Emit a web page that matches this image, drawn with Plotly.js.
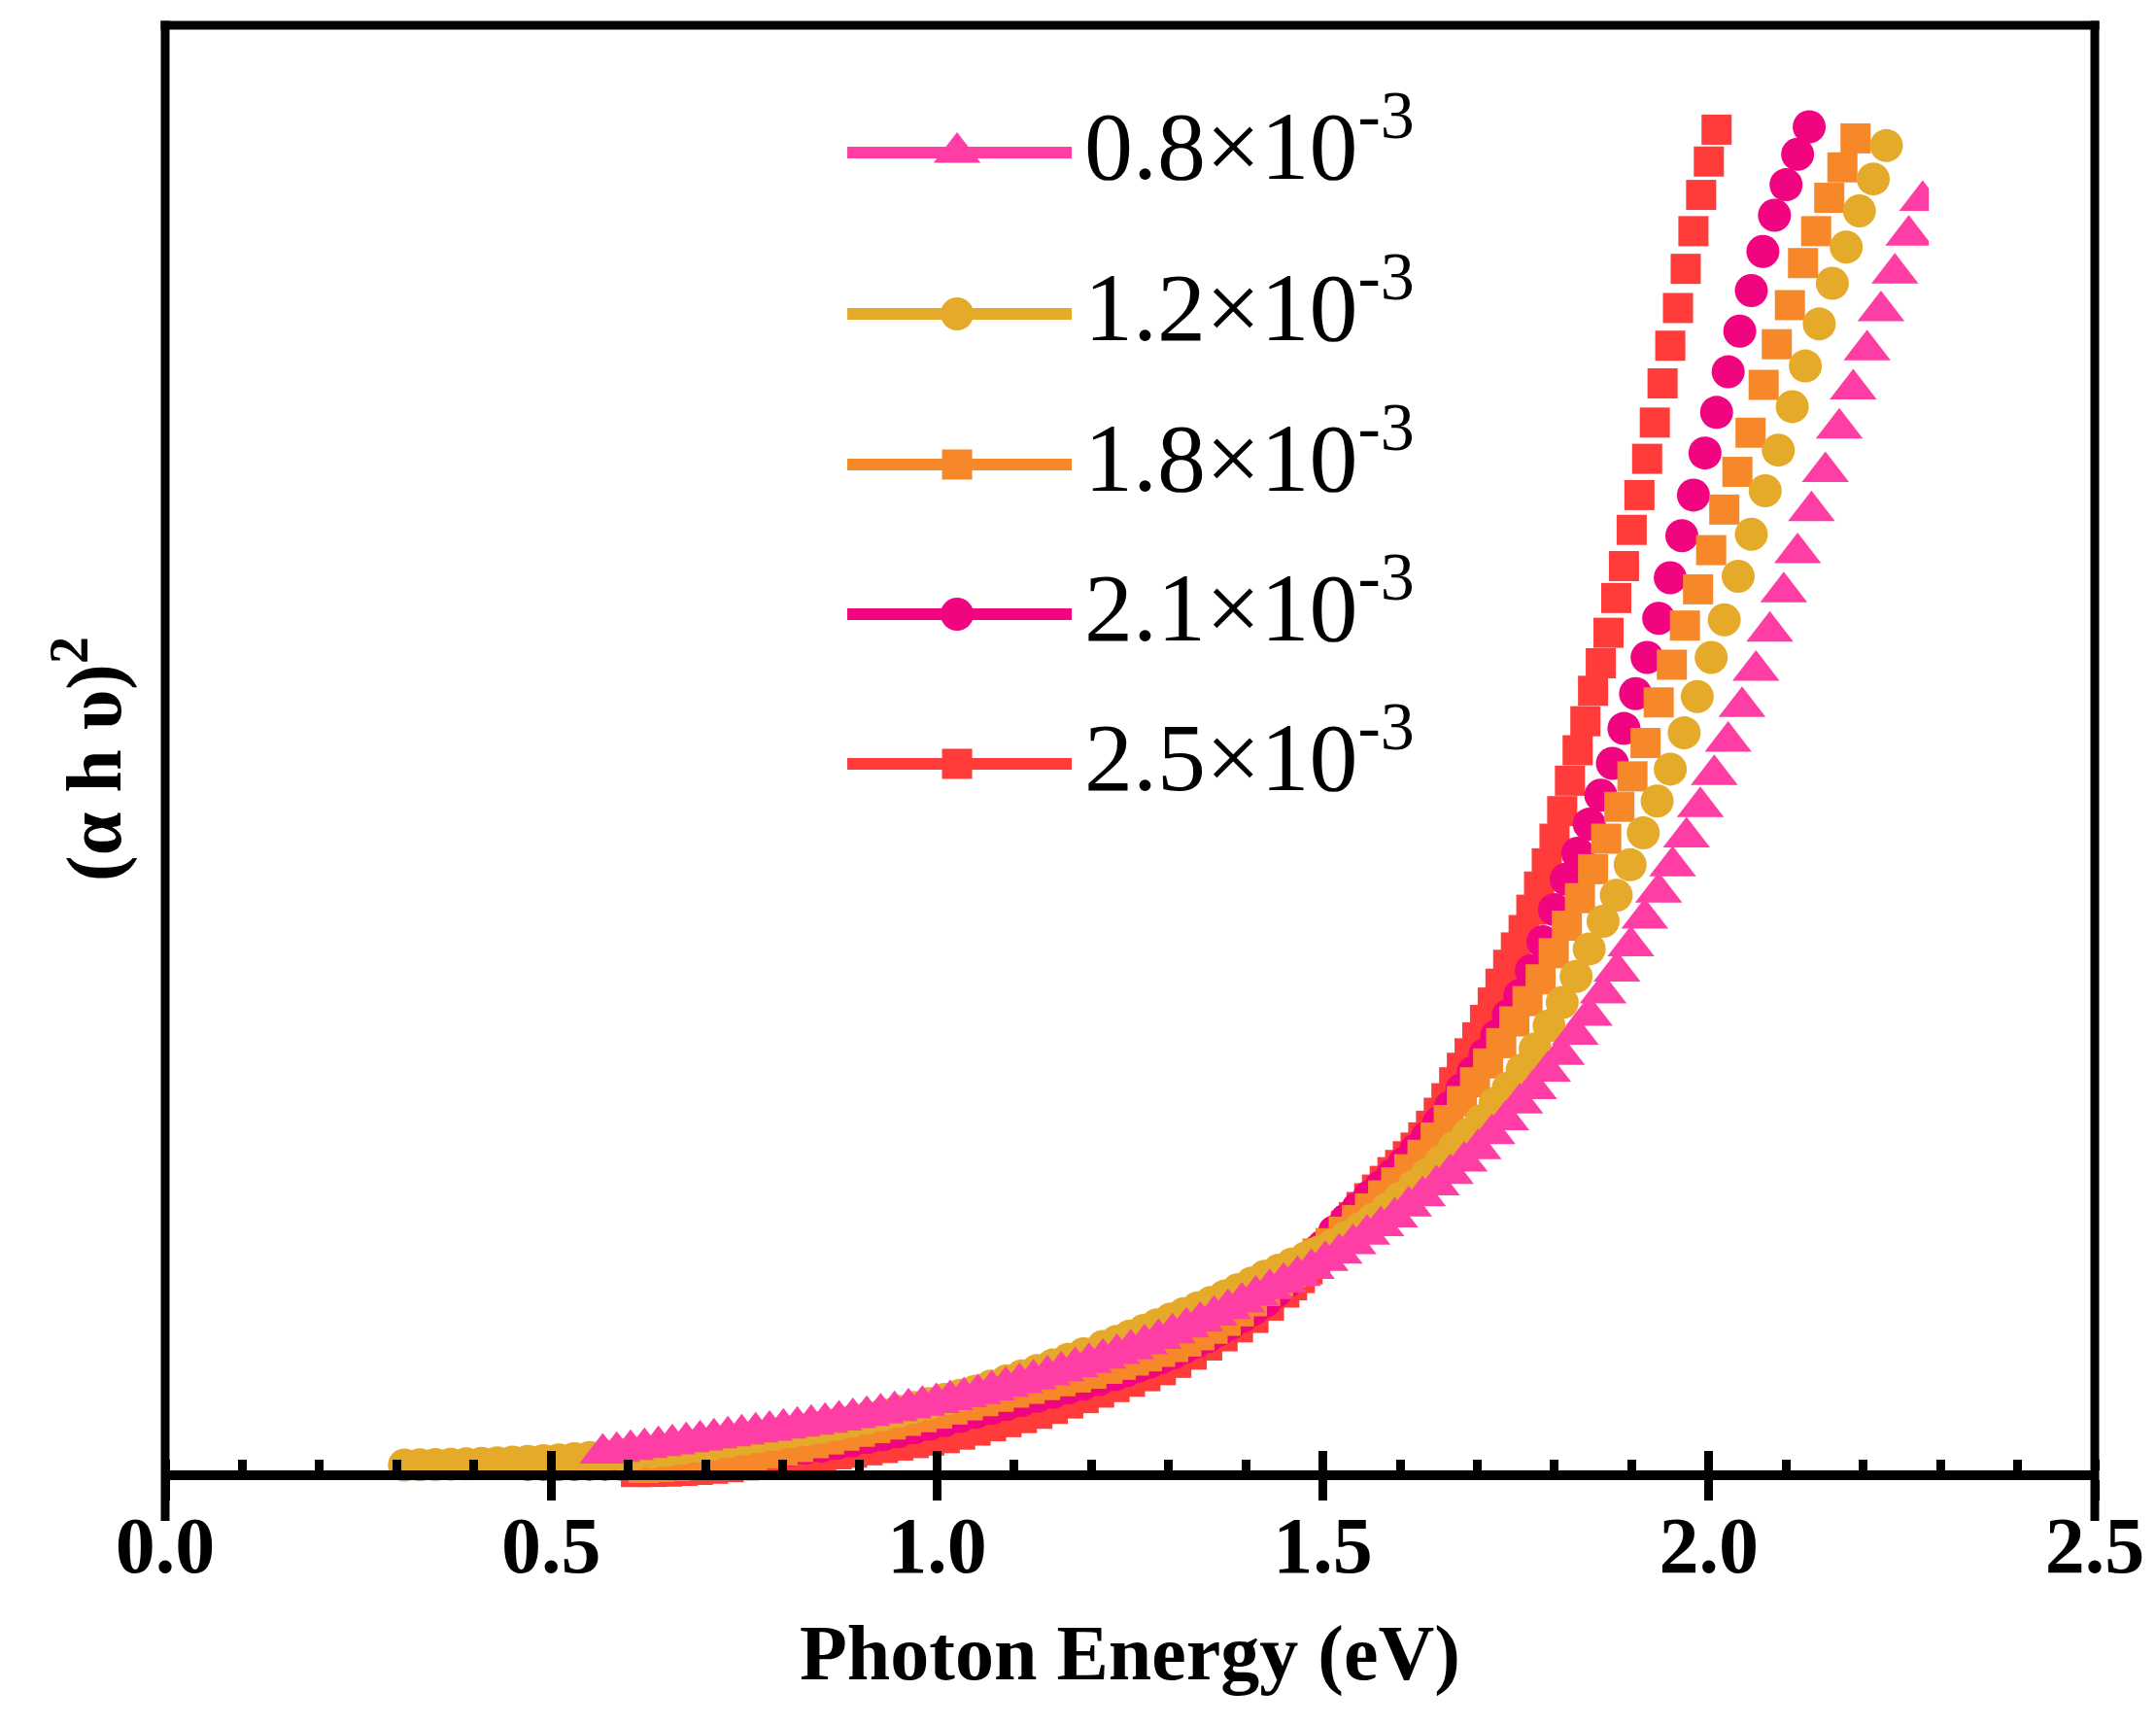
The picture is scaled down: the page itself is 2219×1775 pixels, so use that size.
<!DOCTYPE html>
<html>
<head>
<meta charset="utf-8">
<script src="https://cdn.plot.ly/plotly-3.0.1.min.js"></script>
<style>
  html, body { margin: 0; padding: 0; background: #ffffff; }
  #chart { width: 2219px; height: 1775px; }
</style>
</head>
<body>
<div id="chart"></div>
<script>
// series, (a h v)^2 in arbitrary units (axis = 0, frame top = 100)
const seriesLabels = ["0.8×10<sup>-3</sup>", "1.2×10<sup>-3</sup>", "1.8×10<sup>-3</sup>", "2.1×10<sup>-3</sup>", "2.5×10<sup>-3</sup>"];
const xTickValues = [0, 0.5, 1.0, 1.5, 2.0, 2.5];

const energy08 = [
  0.567, 0.585, 0.603, 0.621, 0.639, 0.657, 0.675, 0.693, 0.711, 0.729, 0.747,
  0.765, 0.783, 0.801, 0.819, 0.837, 0.855, 0.873, 0.891, 0.909, 0.927, 0.945,
  0.963, 0.981, 0.999, 1.017, 1.035, 1.053, 1.071, 1.089, 1.107, 1.125, 1.143,
  1.161, 1.179, 1.197, 1.215, 1.233, 1.251, 1.269, 1.287, 1.305, 1.323, 1.341,
  1.359, 1.377, 1.395, 1.413, 1.431, 1.449, 1.467, 1.485, 1.503, 1.521, 1.539,
  1.557, 1.575, 1.593, 1.611, 1.629, 1.647, 1.665, 1.683, 1.701, 1.719, 1.737,
  1.755, 1.773, 1.791, 1.809, 1.827, 1.845, 1.863, 1.881, 1.899, 1.917, 1.935,
  1.953, 1.971, 1.989, 2.007, 2.025, 2.043, 2.061, 2.079, 2.097, 2.115, 2.133,
  2.151, 2.169, 2.187, 2.205, 2.223, 2.241, 2.259, 2.277
];
const tauc08 = [
  1.50, 1.63, 1.76, 1.89, 2.02, 2.15, 2.29, 2.42, 2.56, 2.70, 2.83,
  2.96, 3.09, 3.23, 3.37, 3.50, 3.64, 3.79, 3.95, 4.11, 4.27, 4.44,
  4.62, 4.81, 5.00, 5.20, 5.40, 5.62, 5.86, 6.11, 6.36, 6.62, 6.90,
  7.18, 7.47, 7.76, 8.06, 8.37, 8.70, 9.05, 9.42, 9.80, 10.20, 10.61,
  11.03, 11.47, 11.93, 12.40, 12.85, 13.28, 13.75, 14.25, 14.80, 15.30, 15.95,
  16.60, 17.20, 17.80, 18.55, 19.25, 20.00, 20.80, 21.65, 22.50, 23.55, 24.50,
  25.65, 26.65, 27.85, 29.00, 30.40, 31.70, 33.25, 34.75, 36.50, 38.40, 40.20,
  42.00, 44.00, 46.10, 48.30, 50.60, 53.00, 55.50, 58.20, 60.90, 63.60, 66.50,
  69.20, 72.20, 74.90, 77.60, 80.30, 82.90, 85.50, 87.90
];

const energy12 = [
  0.31, 0.33, 0.35, 0.37, 0.39, 0.41, 0.43, 0.45, 0.47, 0.49,
  0.51, 0.53, 0.55, 0.57, 0.59, 0.61, 0.63, 0.65, 0.67, 0.69,
  0.71, 0.73, 0.75, 0.77, 0.79, 0.81, 0.83, 0.85, 0.87, 0.89,
  0.91, 0.93, 0.95, 0.97, 0.99, 1.01, 1.03, 1.05, 1.07, 1.09,
  1.11, 1.13, 1.15, 1.17, 1.19,
  1.215, 1.233, 1.250, 1.268, 1.285, 1.303, 1.320, 1.338, 1.355, 1.373,
  1.390, 1.408, 1.425, 1.443, 1.460, 1.478, 1.495, 1.513, 1.530, 1.548,
  1.565, 1.583, 1.600, 1.618, 1.635, 1.653, 1.670, 1.688, 1.705, 1.723,
  1.740, 1.758, 1.775, 1.793, 1.810, 1.828, 1.845, 1.863, 1.880, 1.898,
  1.915, 1.933, 1.950, 1.968, 1.985, 2.003, 2.020, 2.038, 2.055, 2.073,
  2.090, 2.108, 2.125, 2.143, 2.160, 2.178, 2.195, 2.213, 2.230
];
const tauc12 = [
  0.70, 0.72, 0.74, 0.76, 0.79, 0.82, 0.86, 0.90, 0.95, 1.00,
  1.06, 1.14, 1.23, 1.33, 1.42, 1.51, 1.60, 1.70, 1.85, 2.00,
  2.16, 2.33, 2.50, 2.66, 2.82, 2.98, 3.14, 3.30, 3.51, 3.73,
  3.95, 4.17, 4.40, 4.67, 4.95, 5.23, 5.51, 5.80, 6.15, 6.50,
  6.86, 7.23, 7.60, 7.99, 8.38,
  8.88, 9.24, 9.60, 9.99, 10.37, 10.77, 11.14, 11.54, 11.92, 12.36,
  12.80, 13.26, 13.72, 14.14, 14.56, 15.00, 15.40, 15.85, 16.40, 17.00,
  17.65, 18.35, 19.10, 19.95, 20.75, 21.64, 22.60, 23.50, 24.45, 25.65,
  26.70, 27.95, 29.40, 31.00, 32.60, 34.40, 36.30, 38.20, 40.00, 42.10,
  44.30, 46.50, 48.70, 51.20, 53.70, 56.40, 59.00, 62.00, 64.90, 67.90,
  70.70, 73.70, 76.50, 79.40, 82.20, 84.70, 87.20, 89.40, 91.70
];

const energy18 = [
  0.62, 0.64, 0.66, 0.68, 0.70, 0.72, 0.74, 0.76, 0.78, 0.80,
  0.82, 0.84, 0.86, 0.88, 0.90, 0.92, 0.94, 0.96, 0.98, 1.00,
  1.02, 1.04, 1.06, 1.08, 1.10, 1.12, 1.14, 1.16, 1.18, 1.20,
  1.221, 1.238, 1.255, 1.272, 1.289, 1.306, 1.323, 1.340, 1.357, 1.374,
  1.391, 1.408, 1.425, 1.442, 1.459, 1.476, 1.493, 1.510, 1.527, 1.544,
  1.561, 1.578, 1.595, 1.612, 1.629, 1.646, 1.663, 1.680, 1.697, 1.714,
  1.731, 1.748, 1.765, 1.782, 1.799, 1.816, 1.833, 1.850, 1.867, 1.884,
  1.901, 1.918, 1.935, 1.952, 1.969, 1.986, 2.003, 2.020, 2.037, 2.054,
  2.071, 2.088, 2.105, 2.122, 2.139, 2.156, 2.173, 2.190
];
const tauc18 = [
  0.50, 0.57, 0.64, 0.72, 0.85, 1.00, 1.16, 1.33, 1.51, 1.70,
  1.95, 2.21, 2.47, 2.73, 3.00, 3.25, 3.50, 3.75, 4.00, 4.25,
  4.53, 4.82, 5.11, 5.41, 5.70, 5.96, 6.22, 6.48, 6.74, 7.00,
  7.34, 7.62, 7.91, 8.20, 8.51, 8.84, 9.22, 9.65, 10.10, 10.65,
  11.30, 12.00, 12.70, 13.35, 14.00, 14.60, 15.30, 16.00, 16.80, 17.60,
  18.40, 19.30, 20.20, 21.10, 22.10, 23.30, 24.50, 25.80, 27.10, 28.40,
  29.80, 31.30, 32.70, 34.20, 36.00, 37.90, 39.80, 41.80, 43.90, 46.10,
  48.20, 50.50, 53.30, 55.90, 58.60, 61.10, 63.80, 66.60, 69.20, 71.90,
  75.20, 78.00, 80.70, 83.60, 85.80, 88.10, 90.20, 92.20
];

const energy21 = [
  0.47, 0.49, 0.51, 0.53, 0.55, 0.57, 0.59, 0.61, 0.63, 0.65,
  0.67, 0.69, 0.71, 0.73, 0.75, 0.77, 0.79, 0.81, 0.83, 0.85,
  0.87, 0.89, 0.91, 0.93, 0.95, 0.97, 0.99, 1.01, 1.03, 1.05,
  1.07, 1.09, 1.11, 1.13, 1.15, 1.17, 1.19, 1.21,
  1.230, 1.245, 1.260, 1.275, 1.290, 1.305, 1.320, 1.335, 1.350, 1.365,
  1.380, 1.395, 1.410, 1.425, 1.440, 1.455, 1.470, 1.485, 1.500, 1.515,
  1.530, 1.545, 1.560, 1.575, 1.590, 1.605, 1.620, 1.635, 1.650, 1.665,
  1.680, 1.695, 1.710, 1.725, 1.740, 1.755, 1.770, 1.785, 1.800, 1.815,
  1.830, 1.845, 1.860, 1.875, 1.890, 1.905, 1.920, 1.935, 1.950, 1.965,
  1.980, 1.995, 2.010, 2.025, 2.040, 2.055, 2.070, 2.085, 2.100, 2.115,
  2.130
];
const tauc21 = [
  0.75, 0.75, 0.75, 0.75, 0.76, 0.76, 0.77, 0.78, 0.84, 0.90,
  0.96, 1.02, 1.10, 1.21, 1.36, 1.50, 1.62, 1.74, 1.87, 2.00,
  2.20, 2.40, 2.59, 2.79, 3.00, 3.26, 3.52, 3.77, 4.05, 4.33,
  4.60, 4.88, 5.16, 5.44, 5.72, 6.01, 6.30, 6.60,
  6.93, 7.21, 7.50, 7.80, 8.10, 8.42, 8.80, 9.18, 9.55, 10.00,
  10.45, 10.95, 11.45, 12.00, 12.70, 13.40, 14.10, 14.90, 15.80, 16.80,
  17.60, 18.40, 19.20, 19.90, 20.70, 21.50, 22.40, 23.30, 24.30, 25.40,
  26.60, 27.80, 29.00, 30.30, 31.70, 33.10, 34.80, 36.80, 39.00, 41.10,
  42.90, 44.90, 46.90, 49.10, 51.50, 53.90, 56.40, 59.10, 61.90, 64.80,
  67.60, 70.50, 73.30, 76.10, 78.90, 81.70, 84.40, 86.90, 89.00, 91.10,
  93.00
];

const energy25 = [
  0.61, 0.63, 0.65, 0.67, 0.69, 0.71, 0.73, 0.75, 0.77, 0.79,
  0.81, 0.83, 0.85, 0.87, 0.89, 0.91, 0.93, 0.95, 0.97, 0.99,
  1.01, 1.03, 1.05, 1.07, 1.09, 1.11, 1.13, 1.15, 1.17, 1.19,
  1.21, 1.23, 1.25, 1.27, 1.29, 1.31, 1.33, 1.35, 1.37, 1.39,
  1.41, 1.43, 1.45,
  1.46, 1.47, 1.48, 1.49, 1.50, 1.51, 1.52, 1.53, 1.54, 1.55,
  1.56, 1.57, 1.58, 1.59, 1.60, 1.61, 1.62, 1.63, 1.64, 1.65,
  1.66, 1.67, 1.68, 1.69, 1.70, 1.71, 1.72, 1.73, 1.74, 1.75,
  1.76, 1.77, 1.78, 1.79, 1.80, 1.81, 1.82, 1.83, 1.84, 1.85,
  1.86, 1.87, 1.88, 1.89, 1.90, 1.91, 1.92, 1.93, 1.94, 1.95,
  1.96, 1.97, 1.98, 1.99, 2.00, 2.01
];
const tauc25 = [
  0.22, 0.23, 0.25, 0.30, 0.37, 0.45, 0.56, 0.68, 0.80, 0.93,
  1.06, 1.19, 1.31, 1.44, 1.56, 1.72, 1.88, 2.05, 2.22, 2.39,
  2.56, 2.80, 3.08, 3.38, 3.66, 3.94, 4.24, 4.58, 4.95, 5.32,
  5.70, 6.08, 6.45, 6.83, 7.25, 7.75, 8.32, 8.95, 9.58, 10.20,
  10.85, 11.70, 12.60,
  13.10, 13.60, 14.20, 14.80, 15.40, 16.00, 16.60, 17.20, 17.80, 18.50,
  19.10, 19.70, 20.30, 20.90, 21.40, 22.00, 22.60, 23.30, 24.10, 25.00,
  26.00, 27.10, 28.10, 29.10, 30.20, 31.40, 32.60, 33.90, 35.20, 36.40,
  37.60, 39.00, 40.60, 42.20, 43.90, 45.80, 47.90, 50.00, 52.00, 54.10,
  56.00, 58.10, 60.50, 62.70, 65.20, 67.60, 70.10, 72.60, 75.30, 77.90,
  80.50, 83.20, 85.80, 88.30, 90.60, 92.80
];

// look of each series, same order as seriesLabels
const seriesColors = ["#FF3EA5", "#E6AA2B", "#F7882A", "#F0047F", "#FF3C3A"];
const seriesSymbols = ["triangle-up", "circle", "square", "circle", "square"];
const seriesSizes = [42, 34, 31, 34, 31];
const seriesX = [energy08, energy12, energy18, energy21, energy25];
const seriesY = [tauc08, tauc12, tauc18, tauc21, tauc25];

// legend block, in 0..1 units of the hidden overlay axes
const legendRowY = [0.9149, 0.8070, 0.7063, 0.6062, 0.5062];
const legendLineX = [0.3535, 0.4698];
const legendMarkX = 0.4104;
const legendTextX = 0.4754;

const serif = "Liberation Serif, Times New Roman, serif";
const axisPos = 0.0305;

const traces = [];
// drawn from 2.5 up to 0.8 so that the low concentration sits on top
for (let i = seriesX.length - 1; i >= 0; i--) {
  traces.push({
    x: seriesX[i],
    y: seriesY[i],
    type: "scatter",
    mode: "markers",
    name: seriesLabels[i],
    marker: { symbol: seriesSymbols[i], size: seriesSizes[i], color: seriesColors[i], line: { width: 0 } },
    hoverinfo: "skip",
  });
}

// empty trace so the tick-only overlay axis gets drawn
traces.push({ x: [], y: [], xaxis: "x3", yaxis: "y", type: "scatter", mode: "markers", hoverinfo: "skip" });

const annotations = [];
seriesLabels.forEach((label, i) => {
  traces.push({
    x: legendLineX,
    y: [legendRowY[i], legendRowY[i]],
    xaxis: "x2",
    yaxis: "y2",
    type: "scatter",
    mode: "lines",
    line: { color: seriesColors[i], width: 12 },
    hoverinfo: "skip",
  });
  traces.push({
    x: [legendMarkX],
    y: [legendRowY[i]],
    xaxis: "x2",
    yaxis: "y2",
    type: "scatter",
    mode: "markers",
    marker: { symbol: seriesSymbols[i], size: seriesSizes[i], color: seriesColors[i], line: { width: 0 } },
    hoverinfo: "skip",
  });
  annotations.push({
    text: label,
    xref: "x2",
    yref: "y2",
    x: legendTextX,
    y: legendRowY[i],
    xanchor: "left",
    yanchor: "middle",
    yshift: 14,
    showarrow: false,
    font: { family: serif, size: 100, color: "#000000" },
  });
});

annotations.push({
  text: "Photon Energy (eV)",
  xref: "paper",
  yref: "paper",
  x: 0.5,
  y: -0.089,
  xanchor: "center",
  yanchor: "middle",
  showarrow: false,
  font: { family: serif, size: 80, color: "#000000", weight: "bold" },
});
annotations.push({
  text: "(α h υ)<sup>2</sup>",
  xref: "paper",
  yref: "paper",
  x: -0.0398,
  y: 0.5094,
  textangle: -90,
  xanchor: "center",
  yanchor: "middle",
  showarrow: false,
  font: { family: serif, size: 80, color: "#000000", weight: "bold" },
});

const frameLine = { color: "#000000", width: 9 };
const layout = {
  width: 2219,
  height: 1775,
  margin: { l: 170, r: 63, t: 26, b: 210 },
  paper_bgcolor: "#ffffff",
  plot_bgcolor: "#ffffff",
  showlegend: false,
  xaxis: {
    range: [0, 2.5],
    anchor: "free",
    position: axisPos,
    showline: true,
    linewidth: 10,
    linecolor: "#000000",
    tickmode: "array",
    tickvals: xTickValues,
    tickformat: ".1f",
    ticks: "outside",
    ticklen: 21,
    tickwidth: 9,
    tickcolor: "#000000",
    ticklabelstandoff: -24,
    tickfont: { family: serif, size: 82, color: "#000000", weight: "bold" },
    minor: { ticks: "inside", ticklen: 11, tickwidth: 9, tickcolor: "#000000", dtick: 0.1, tick0: 0, showgrid: false },
    showgrid: false,
    zeroline: false,
  },
  // second copy of the x axis carrying the inner half of the major ticks
  xaxis3: {
    overlaying: "x",
    anchor: "free",
    position: axisPos,
    range: [0, 2.5],
    tickmode: "array",
    tickvals: xTickValues,
    ticks: "inside",
    ticklen: 25,
    tickwidth: 9,
    tickcolor: "#000000",
    showticklabels: false,
    showline: false,
    showgrid: false,
    zeroline: false,
  },
  yaxis: {
    range: [-3.15, 100],
    showline: false,
    ticks: "",
    showticklabels: false,
    showgrid: false,
    zeroline: false,
  },
  xaxis2: { overlaying: "x", anchor: "y2", range: [0, 1], visible: false },
  yaxis2: { overlaying: "y", anchor: "x2", range: [0, 1], visible: false },
  shapes: [
    // the original figure cuts the last triangles off at about 2.285 eV
    { type: "rect", xref: "x", yref: "y", x0: 2.285, x1: 2.4, y0: 82, y1: 93, fillcolor: "#ffffff", line: { width: 0 }, layer: "above" },
    { type: "line", xref: "paper", yref: "paper", x0: 0, x1: 0, y0: 0, y1: 1.003, line: frameLine },
    { type: "line", xref: "paper", yref: "paper", x0: 1, x1: 1, y0: 0, y1: 1.003, line: frameLine },
    { type: "line", xref: "paper", yref: "paper", x0: -0.0023, x1: 1.0023, y0: 1, y1: 1, line: frameLine },
  ],
  annotations: annotations,
};

Plotly.newPlot("chart", traces, layout, { displayModeBar: false, staticPlot: true });
</script>
</body>
</html>
